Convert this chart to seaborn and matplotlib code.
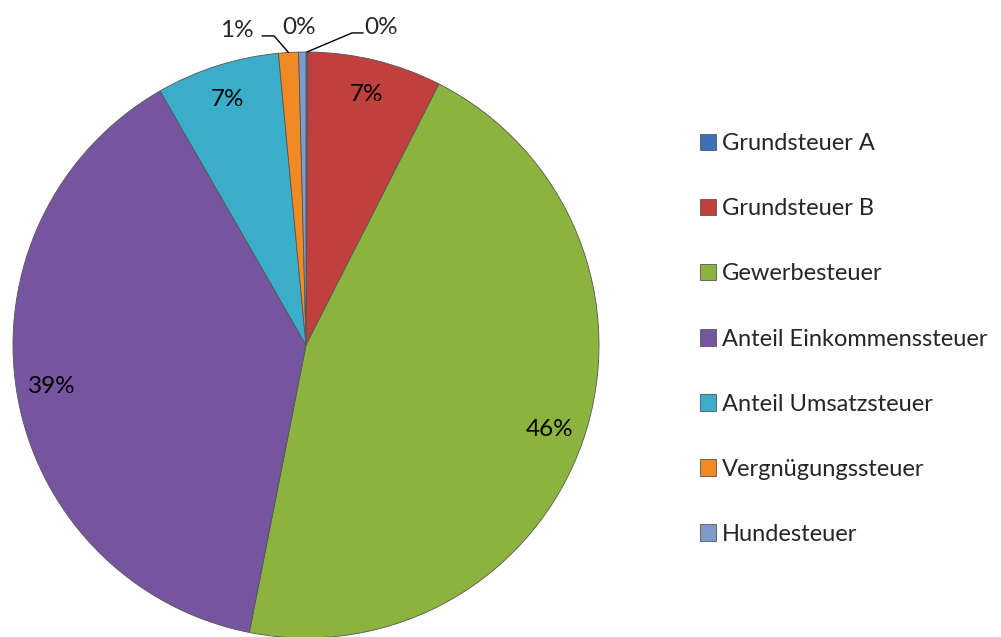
import numpy as np
import matplotlib
matplotlib.use("Agg")
import matplotlib.pyplot as plt
import seaborn as sns

# --- Daten ---
kategorien = ['Grundsteuer A', 'Grundsteuer B', 'Gewerbesteuer',
              'Anteil Einkommenssteuer', 'Anteil Umsatzsteuer',
              'Vergnügungssteuer', 'Hundesteuer']
anteile = [0.1, 7.4, 45.6, 38.6, 6.8, 1.1, 0.4]
farben = ['#3F6FB5', '#C0403E', '#8DB33F', '#75559F', '#3AADCB', '#F28A24', '#7F9BCB']

sns.set_theme(style="white")
plt.rcParams['font.family'] = ['Lato', 'DejaVu Sans']

fig = plt.figure(figsize=(10.01, 6.37), dpi=100)
# Kreis: Mitte (306, 345) px, Radius 293 px
ax = fig.add_axes([13 / 1001, -1 / 637, 586 / 1001, 586 / 637])

wedges, _ = ax.pie(anteile, colors=farben, startangle=90, counterclock=False,
                   wedgeprops=dict(edgecolor='#555555', linewidth=0.6))
ax.set_xlim(-1, 1)
ax.set_ylim(-1, 1)
ax.set_aspect('equal')
ax.axis('off')

# Prozentwerte
gesamt = sum(anteile)
for w, v in zip(wedges, anteile):
    if v / gesamt < 0.02:
        continue
    t = np.deg2rad((w.theta1 + w.theta2) / 2)
    r = 0.88
    ax.text(r * np.cos(t), r * np.sin(t), f'{v / gesamt * 100:.0f}%',
            ha='center', va='center', fontsize=17.5, color='black')

# kleine Segmente mit Führungslinien
def randpunkt(w, frac=0.5):
    t = np.deg2rad(w.theta1 + frac * (w.theta2 - w.theta1))
    return np.cos(t), np.sin(t)

# Vergnügungssteuer
px, py = randpunkt(wedges[5])
ax.plot([px, -0.109, -0.150], [py, 1.055, 1.055], color='black', lw=1, clip_on=False)
ax.text(-0.235, 1.072, f'{anteile[5] / gesamt * 100:.0f}%', ha='center', va='center', fontsize=17.5)
# Hundesteuer
ax.text(-0.024, 1.082, f'{anteile[6] / gesamt * 100:.0f}%', ha='center', va='center', fontsize=17.5)
# Grundsteuer A
px, py = randpunkt(wedges[0])
ax.plot([px, 0.157, 0.195], [py, 1.065, 1.065], color='black', lw=1, clip_on=False)
ax.text(0.256, 1.085, f'{anteile[0] / gesamt * 100:.0f}%', ha='center', va='center', fontsize=17.5)

fig.legend(wedges, kategorien, loc='center left', bbox_to_anchor=(688 / 1001, 1 - 339 / 637),
           frameon=False, fontsize=17, handlelength=0.7, handleheight=0.7,
           handletextpad=0.25, labelspacing=1.87, borderpad=0)

fig.savefig('out.png', dpi=100)
